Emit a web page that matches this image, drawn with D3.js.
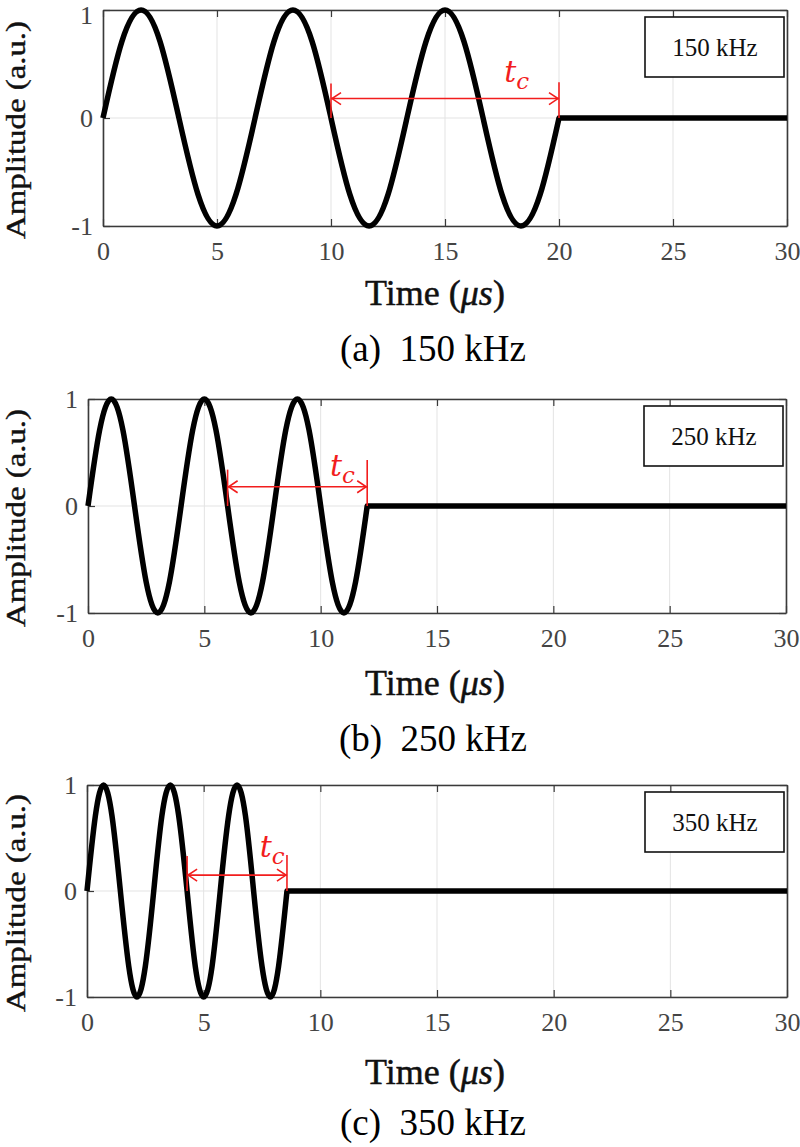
<!DOCTYPE html>
<html>
<head>
<meta charset="utf-8">
<script src="https://cdn.jsdelivr.net/npm/d3@7"></script>
<style>
  body { margin: 0; background: white; }
  svg { display: block; }
</style>
</head>
<body>
<div id="chart"></div>
<script>
// values: time (us) and amplitude (a.u.) of each burst
const time150 = [0, 0.83, 1.67, 2.5, 3.33, 4.17, 5, 5.83, 6.67, 7.5, 8.33, 9.17, 10, 10.83, 11.67, 12.5, 13.33, 14.17, 15, 15.83, 16.67, 17.5, 18.33, 19.17, 20, 30];
const time250 = [0, 0.5, 1, 1.5, 2, 2.5, 3, 3.5, 4, 4.5, 5, 5.5, 6, 6.5, 7, 7.5, 8, 8.5, 9, 9.5, 10, 10.5, 11, 11.5, 12, 30];
const time350 = [0, 0.36, 0.71, 1.07, 1.43, 1.79, 2.14, 2.5, 2.86, 3.21, 3.57, 3.93, 4.29, 4.64, 5, 5.36, 5.71, 6.07, 6.43, 6.79, 7.14, 7.5, 7.86, 8.21, 8.57, 30];
const amplitude = [0, 0.71, 1, 0.71, 0, -0.71, -1, -0.71, 0, 0.71, 1, 0.71, 0, -0.71, -1, -0.71, 0, 0.71, 1, 0.71, 0, -0.71, -1, -0.71, 0, 0];

// t_c marker: start / end of the arrow (us)
const tcStart = [10, 6, 4.29];
const tcEnd = [20, 12, 8.57];

const frequencies = ['150 kHz', '250 kHz', '350 kHz'];
const captions = ['(a)  150 kHz', '(b)  250 kHz', '(c)  350 kHz'];
const xTicks = [0, 5, 10, 15, 20, 25, 30];
const yTicks = [-1, 0, 1];

// layout of the three panels (pixels)
const layout = [
  { left: 103, right: 787, top: 10, bottom: 226, timeY: 293, capY: 348 },
  { left: 88, right: 786, top: 399, bottom: 613, timeY: 683, capY: 738 },
  { left: 87, right: 787, top: 785, bottom: 997, timeY: 1072, capY: 1122 }
];
// arrow / label heights in data units, per panel
const arrowStyle = [
  { arrowY: 0.18, leftTop: 0.32, rightTop: 0.33, labelX: 17.6, labelY: 0.33 },
  { arrowY: 0.18, leftTop: 0.34, rightTop: 0.43, labelX: 10.4, labelY: 0.28 },
  { arrowY: 0.15, leftTop: 0.33, rightTop: 0.34, labelX: 7.4, labelY: 0.32 }
];

const times = [time150, time250, time350];
const red = '#f21d1d';
const serif = '"Liberation Serif", "Times New Roman", serif';

//plain hyphen for negative ticks, like the original
const tickText = d => d < 0 ? '-' + Math.abs(d) : String(d);

const svg = d3.select('#chart').append('svg')
  .attr('width', 800)
  .attr('height', 1147);

svg.append('rect')
  .attr('width', 800)
  .attr('height', 1147)
  .attr('fill', 'white');

layout.forEach((box, i) => {
  const g = svg.append('g');

  const x = d3.scaleLinear().domain([0, 30]).range([box.left, box.right]);
  const y = d3.scaleLinear().domain([-1, 1]).range([box.bottom, box.top]);

  //grid
  g.append('g').selectAll('line')
    .data(xTicks)
    .join('line')
    .attr('x1', d => x(d)).attr('x2', d => x(d))
    .attr('y1', box.top).attr('y2', box.bottom)
    .attr('stroke', '#e3e3e3')
    .attr('stroke-width', 1);
  g.append('g').selectAll('line')
    .data(yTicks)
    .join('line')
    .attr('x1', box.left).attr('x2', box.right)
    .attr('y1', d => y(d)).attr('y2', d => y(d))
    .attr('stroke', '#e3e3e3')
    .attr('stroke-width', 1);

  //axes with inward ticks (top/bottom, left/right)
  const axisColor = '#3a3a3a';
  const bottomAxis = g.append('g')
    .attr('transform', `translate(0,${box.bottom})`)
    .call(d3.axisBottom(x).tickValues(xTicks).tickFormat(tickText).tickSizeInner(-7).tickSizeOuter(0).tickPadding(16));
  const topAxis = g.append('g')
    .attr('transform', `translate(0,${box.top})`)
    .call(d3.axisTop(x).tickValues(xTicks).tickSizeInner(-7).tickSizeOuter(0).tickFormat(''));
  const leftAxis = g.append('g')
    .attr('transform', `translate(${box.left},0)`)
    .call(d3.axisLeft(y).tickValues(yTicks).tickFormat(tickText).tickSizeInner(-7).tickSizeOuter(0).tickPadding(10));
  const rightAxis = g.append('g')
    .attr('transform', `translate(${box.right},0)`)
    .call(d3.axisRight(y).tickValues(yTicks).tickSizeInner(-7).tickSizeOuter(0).tickFormat(''));

  [bottomAxis, topAxis, leftAxis, rightAxis].forEach(a => {
    a.select('.domain').attr('stroke', axisColor).attr('stroke-width', 1.6);
    a.selectAll('.tick line').attr('stroke', axisColor).attr('stroke-width', 1.2);
    a.selectAll('.tick text')
      .attr('fill', '#444')
      .style('font-family', serif)
      .style('font-size', '26px');
  });
  bottomAxis.selectAll('.tick text').attr('dy', '0.71em');
  //top label of the first panel sits at the page edge, nudge it down a bit
  leftAxis.selectAll('.tick text')
    .attr('dy', d => (d === 1 && box.top < 20) ? '0.5em' : '0.34em');

  //the waveform: smooth burst, then flat at zero
  const points = times[i].map((t, k) => ({ t: t, a: amplitude[k] }));
  const burst = points.slice(0, points.length - 1);
  const tail = points[points.length - 1];
  const burstLine = d3.line()
    .x(d => x(d.t))
    .y(d => y(d.a))
    .curve(d3.curveNatural);
  g.append('path')
    .attr('d', burstLine(burst) + `L${x(tail.t)},${y(tail.a)}`)
    .attr('fill', 'none')
    .attr('stroke', 'black')
    .attr('stroke-width', 5.5)
    .attr('stroke-linejoin', 'round');

  //t_c arrow
  const st = arrowStyle[i];
  const tc = g.append('g').attr('stroke', red).attr('fill', 'none').attr('stroke-width', 1.6);
  tc.append('line')
    .attr('x1', x(tcStart[i])).attr('x2', x(tcStart[i]))
    .attr('y1', y(0)).attr('y2', y(st.leftTop));
  tc.append('line')
    .attr('x1', x(tcEnd[i])).attr('x2', x(tcEnd[i]))
    .attr('y1', y(0)).attr('y2', y(st.rightTop));
  tc.append('line')
    .attr('x1', x(tcStart[i])).attr('x2', x(tcEnd[i]))
    .attr('y1', y(st.arrowY)).attr('y2', y(st.arrowY));
  const ay = y(st.arrowY);
  tc.append('polyline')
    .attr('points', `${x(tcStart[i]) + 10},${ay - 6} ${x(tcStart[i]) + 1},${ay} ${x(tcStart[i]) + 10},${ay + 6}`);
  tc.append('polyline')
    .attr('points', `${x(tcEnd[i]) - 10},${ay - 6} ${x(tcEnd[i]) - 1},${ay} ${x(tcEnd[i]) - 10},${ay + 6}`);

  const label = g.append('text')
    .attr('x', x(st.labelX))
    .attr('y', y(st.labelY))
    .attr('fill', red)
    .style('font-family', '"DejaVu Serif", serif')
    .style('font-style', 'italic')
    .style('font-size', '30px');
  label.append('tspan').text('t');
  label.append('tspan')
    .attr('dy', 7)
    .style('font-size', '23px')
    .text('c');

  //frequency box
  g.append('rect')
    .attr('x', box.right - 142)
    .attr('y', box.top + 7)
    .attr('width', 139)
    .attr('height', 60)
    .attr('fill', 'white')
    .attr('stroke', '#111')
    .attr('stroke-width', 1.6);
  g.append('text')
    .attr('x', box.right - 72)
    .attr('y', box.top + 37)
    .attr('text-anchor', 'middle')
    .attr('dominant-baseline', 'central')
    .attr('fill', '#111')
    .style('font-family', serif)
    .style('font-size', '25px')
    .text(frequencies[i]);

  //axis labels
  const timeLabel = g.append('text')
    .attr('x', 435)
    .attr('y', box.timeY)
    .attr('text-anchor', 'middle')
    .attr('dominant-baseline', 'central')
    .attr('fill', '#111')
    .attr('stroke', '#111')
    .attr('stroke-width', 0.5)
    .style('font-family', serif)
    .style('font-size', '36px');
  timeLabel.append('tspan').text('Time (');
  timeLabel.append('tspan').style('font-style', 'italic').text('μs');
  timeLabel.append('tspan').text(')');

  g.append('text')
    .attr('transform', `translate(25,${(box.top + box.bottom) / 2 + 12}) rotate(-90)`)
    .attr('text-anchor', 'middle')
    .attr('textLength', 218)
    .attr('lengthAdjust', 'spacingAndGlyphs')
    .attr('fill', '#111')
    .attr('stroke', '#111')
    .attr('stroke-width', 0.4)
    .style('font-family', serif)
    .style('font-size', '27px')
    .text('Amplitude (a.u.)');

  //caption under each panel
  g.append('text')
    .attr('x', 433)
    .attr('y', box.capY)
    .attr('text-anchor', 'middle')
    .attr('dominant-baseline', 'central')
    .attr('fill', 'black')
    .style('font-family', serif)
    .style('font-size', '37px')
    .style('white-space', 'pre')
    .text(captions[i]);
});
</script>
</body>
</html>
